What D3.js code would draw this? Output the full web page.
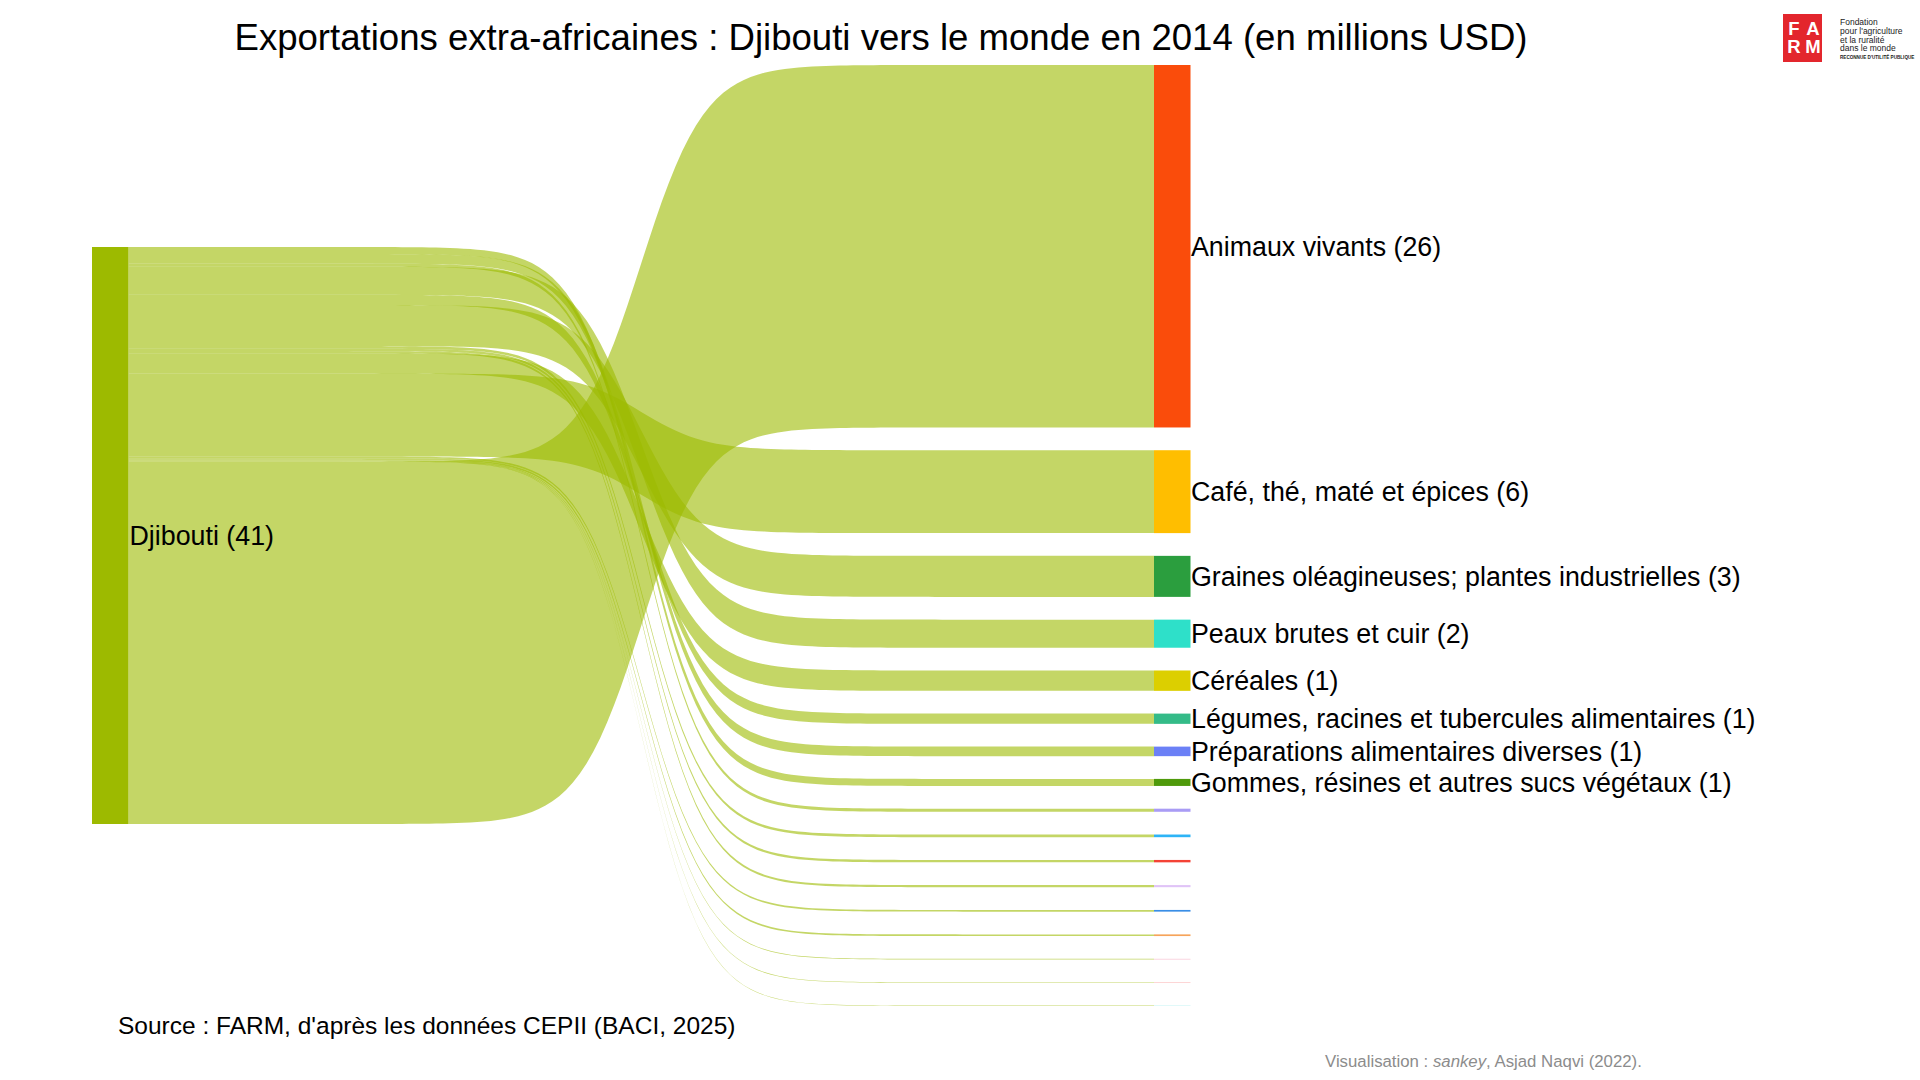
<!DOCTYPE html>
<html>
  <head>
    <meta charset="utf-8" />
    <script src="https://cdn.jsdelivr.net/npm/d3@7"></script>
    <style>
    body {
      margin: 0;
      background: #fff;
    }
    text {
      font-family: 'Liberation Sans', Arial, sans-serif;
    }
    </style>
  </head>
  <body>
    <div id="chart"></div>

    <script type="text/javascript">
    // source node
    var source = "Djibouti";

    // destination products, top to bottom on the right (millions USD)
    var products = [
      "Animaux vivants",
      "Café, thé, maté et épices",
      "Graines oléagineuses; plantes industrielles",
      "Peaux brutes et cuir",
      "Céréales",
      "Légumes, racines et tubercules alimentaires",
      "Préparations alimentaires diverses",
      "Gommes, résines et autres sucs végétaux",
      "Autre produit 1", "Autre produit 2", "Autre produit 3",
      "Autre produit 4", "Autre produit 5", "Autre produit 6",
      "Autre produit 7", "Autre produit 8", "Autre produit 9"
    ];
    var values = [25.8, 5.9, 2.92, 2.0, 1.45, 0.73, 0.68, 0.5,
                  0.22, 0.19, 0.17, 0.15, 0.12, 0.12, 0.05, 0.04, 0.03];
    var colors = ["#fa4c0b", "#ffbe00", "#2b9e3e", "#2ee0c9", "#dccf00",
                  "#34bb88", "#6b80f6", "#4f9a0b", "#a99cf5", "#2db4f6",
                  "#f44336", "#e0c3f7", "#3a8ee6", "#f6a45b", "#f7c4d2",
                  "#fbb6b6", "#b8f0f0"];

    // how the flows are stacked on the left node, top to bottom
    var leftOrder = [
      "Gommes, résines et autres sucs végétaux",
      "Préparations alimentaires diverses",
      "Autre produit 1",
      "Peaux brutes et cuir",
      "Légumes, racines et tubercules alimentaires",
      "Graines oléagineuses; plantes industrielles",
      "Autre produit 2", "Autre produit 3", "Autre produit 4",
      "Céréales",
      "Café, thé, maté et épices",
      "Autre produit 5", "Autre produit 6", "Autre produit 7",
      "Autre produit 8", "Autre produit 9",
      "Animaux vivants"
    ];

    var width = 1920, height = 1080;
    var yTop = 65, yBottom = 1006, gap = 22.75, nodeW = 36.5;
    var srcColor = "#9dba00";
    var total = d3.sum(values);

    var x = d3.scalePoint().domain([0, 1]).range([92, 1154]);
    var h = d3.scaleLinear().domain([0, total])
      .range([0, (yBottom - yTop) - gap * (values.length - 1)]);

    // right nodes
    var nodes = [];
    var yy = yTop;
    products.forEach(function(p, i) {
      nodes.push({name: p, value: values[i], color: colors[i], y0: yy, y1: yy + h(values[i])});
      yy += h(values[i]) + gap;
    });
    var byName = {};
    nodes.forEach(function(n) { byName[n.name] = n; });

    // left node
    var srcH = h(total);
    var srcY0 = (yTop + yBottom) / 2 - srcH / 2;

    var links = [];
    var ly = srcY0;
    leftOrder.forEach(function(p) {
      var n = byName[p];
      links.push({target: n, ly0: ly, ly1: ly + h(n.value)});
      ly += h(n.value);
    });

    var svg = d3.select('#chart').append('svg')
      .attr('width', width)
      .attr('height', height);

    svg.append('text')
      .attr('x', 881)
      .attr('y', 50)
      .attr('text-anchor', 'middle')
      .style('font-size', '36.6px')
      .text("Exportations extra-africaines : Djibouti vers le monde en 2014 (en millions USD)");

    // sigmoid used for the ribbons
    var smooth = 8;
    var sig = function(u) {
      if (u <= 0) return 0;
      if (u >= 1) return 1;
      return 1 / (1 + Math.pow(u / (1 - u), -smooth));
    };

    var xa = x(0) + nodeW, xb = x(1);
    var area = d3.area()
      .x(function(d) { return d.x; })
      .y0(function(d) { return d.y0; })
      .y1(function(d) { return d.y1; });

    svg.append('g').selectAll('path')
      .data(links)
      .enter()
      .append('path')
      .attr('d', function(l) {
        var pts = d3.range(0, 1.0001, 1 / 150).map(function(u) {
          var f = sig(u);
          return {
            x: xa + (xb - xa) * u,
            y0: l.ly0 + (l.target.y0 - l.ly0) * f,
            y1: l.ly1 + (l.target.y1 - l.ly1) * f
          };
        });
        return area(pts);
      })
      .attr('fill', srcColor)
      .attr('fill-opacity', 0.6);

    // nodes
    svg.append('rect')
      .attr('x', x(0)).attr('y', srcY0)
      .attr('width', nodeW).attr('height', srcH)
      .attr('fill', srcColor);

    svg.append('g').selectAll('rect')
      .data(nodes)
      .enter()
      .append('rect')
      .attr('x', x(1)).attr('y', function(d) { return d.y0; })
      .attr('width', nodeW).attr('height', function(d) { return d.y1 - d.y0; })
      .attr('fill', function(d) { return d.color; });

    // labels
    svg.append('text')
      .attr('x', x(0) + nodeW + 1)
      .attr('y', srcY0 + srcH / 2)
      .attr('dy', '0.35em')
      .style('font-size', '26.8px')
      .text(source + " (" + Math.round(total) + ")");

    svg.append('g').selectAll('text')
      .data(nodes.filter(function(d) { return Math.round(d.value) >= 1; }))
      .enter()
      .append('text')
      .attr('x', x(1) + nodeW + 0.5)
      .attr('y', function(d) { return (d.y0 + d.y1) / 2; })
      .attr('dy', '0.35em')
      .style('font-size', '26.8px')
      .text(function(d) { return d.name + " (" + Math.round(d.value) + ")"; });

    svg.append('text')
      .attr('x', 118)
      .attr('y', 1034)
      .style('font-size', '24.5px')
      .text("Source : FARM, d'après les données CEPII (BACI, 2025)");

    var vis = svg.append('text')
      .attr('x', 1325)
      .attr('y', 1067)
      .style('font-size', '16.8px')
      .attr('fill', '#8c8c8c');
    vis.append('tspan').text("Visualisation : ");
    vis.append('tspan').style('font-style', 'italic').text("sankey");
    vis.append('tspan').text(", Asjad Naqvi (2022).");

    // FARM logo
    var logo = svg.append('g');
    logo.append('rect')
      .attr('x', 1783).attr('y', 14)
      .attr('width', 39).attr('height', 48)
      .attr('fill', '#e3262d');
    [["F", 1794, 35], ["A", 1813, 35], ["R", 1794, 53], ["M", 1813, 53]].forEach(function(c) {
      logo.append('text')
        .attr('x', c[1]).attr('y', c[2])
        .attr('text-anchor', 'middle')
        .attr('fill', '#fff')
        .style('font-size', '18.5px')
        .style('font-weight', 'bold')
        .text(c[0]);
    });
    [["Fondation", 25], ["pour l'agriculture", 34], ["et la ruralité", 42.5], ["dans le monde", 51]].forEach(function(t) {
      logo.append('text')
        .attr('x', 1840).attr('y', t[1])
        .attr('fill', '#222')
        .style('font-size', '8.5px')
        .text(t[0]);
    });
    logo.append('text')
      .attr('x', 1840).attr('y', 58.5)
      .attr('fill', '#222')
      .style('font-size', '4.6px')
      .style('font-weight', 'bold')
      .text("RECONNUE D'UTILITÉ PUBLIQUE");
    </script>
  </body>
</html>
